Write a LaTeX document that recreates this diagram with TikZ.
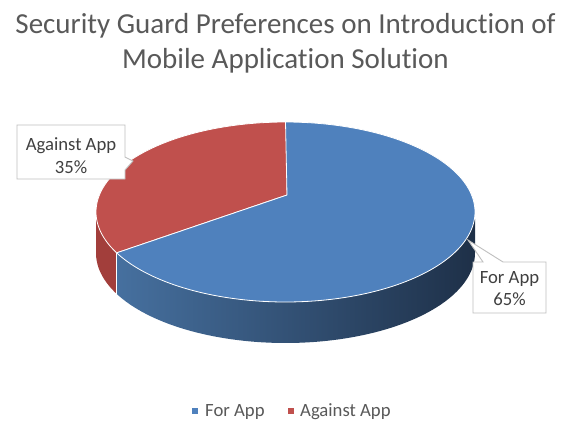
\documentclass[tikz,border=0pt]{standalone}
\usepackage{fontspec}
\setmainfont[Ligatures=NoCommon]{Carlito}
\definecolor{topblue}{HTML}{4F81BD}
\definecolor{topred}{HTML}{C0504D}
\definecolor{sidered}{HTML}{A23E3B}
\definecolor{sideblueL}{HTML}{46709F}
\definecolor{sideblueR}{HTML}{1E3048}
\definecolor{titlegray}{HTML}{595959}
\definecolor{labelgray}{HTML}{404040}
\definecolor{framegray}{HTML}{BFBFBF}
\tikzset{
  titletext/.style={anchor=base, text=titlegray, inner sep=0pt, font=\fontsize{29}{35}\selectfont},
  labeltext/.style={anchor=base, text=labelgray, inner sep=0pt, font=\fontsize{18.7}{23}\selectfont},
  legendtext/.style={anchor=base west, text=titlegray, inner sep=0pt, font=\fontsize{18.7}{23}\selectfont},
  legendkey/.style={minimum size=6pt, inner sep=0pt, draw=none},
  callout/.style={fill=white, draw=framegray, line width=0.9pt, line join=miter},
  slice/.style={draw=white, line width=0.8pt, line join=round},
}
% ellipse of the top face: centre (285.5,212), radii 189.5 x 90; side depth 41
\newcommand{\ex}[1]{285.5+189.5*cos(#1)}
\newcommand{\ey}[1]{212-90*sin(#1)}
\begin{document}
\begin{tikzpicture}[x=1pt, y=-1pt]
\useasboundingbox (0,0) rectangle (574,421);
\fill[white] (0,0) rectangle (574,421);

% title
\node[titletext] (title1) at (285.5,33) {Security Guard Preferences on Introduction of};
\node[titletext] (title2) at (285.5,68) {Mobile Application Solution};

% pie apex and slice corners
\coordinate (apex) at (287,195);
\coordinate (top) at (287,122);
\coordinate (split) at ({\ex{207}},{\ey{207}});
\coordinate (splitlow) at ({\ex{207}},{\ey{207}+41});

% side walls
\fill[sidered] plot[domain=180:207, samples=20, variable=\t] ({\ex{\t}},{\ey{\t}})
  -- plot[domain=207:180, samples=20, variable=\t] ({\ex{\t}},{\ey{\t}+41}) -- cycle;
\shade[left color=sideblueL, right color=sideblueR]
  plot[domain=207:360, samples=80, variable=\t] ({\ex{\t}},{\ey{\t}})
  -- plot[domain=360:207, samples=80, variable=\t] ({\ex{\t}},{\ey{\t}+41}) -- cycle;
\draw[white, line width=0.8pt] (split) -- (splitlow);

% top faces
\filldraw[slice, fill=topred] (apex) -- (top)
  -- plot[domain=90:207, samples=80, variable=\t] ({\ex{\t}},{\ey{\t}}) -- cycle;
\filldraw[slice, fill=topblue] (apex) -- (split)
  -- plot[domain=207:450, samples=150, variable=\t] ({\ex{\t}},{\ey{\t}}) -- cycle;

% data label: Against App
\coordinate (tipA) at (133,161);
\draw[callout] (17,125) -- (125,125) -- (125,157) -- (tipA) -- (125,170) -- (125,179) -- (17,179) -- cycle;
\node[labeltext] (labA1) at (71,150) {Against App};
\node[labeltext] (labA2) at (71,173) {35\%};

% data label: For App
\coordinate (tipB) at (468,240);
\draw[callout] (473,262) -- (483,262) -- (tipB) -- (503,262) -- (546,262) -- (546,313) -- (473,313) -- cycle;
\node[labeltext] (labB1) at (509.5,283) {For App};
\node[labeltext] (labB2) at (509.5,305) {65\%};

% legend
\node[legendkey, fill=topblue] (keyB) at (195,410.5) {};
\node[legendtext] (legB) at (205,416) {For App};
\node[legendkey, fill=topred] (keyA) at (291,410.5) {};
\node[legendtext] (legA) at (300,416) {Against App};
\end{tikzpicture}
\end{document}
